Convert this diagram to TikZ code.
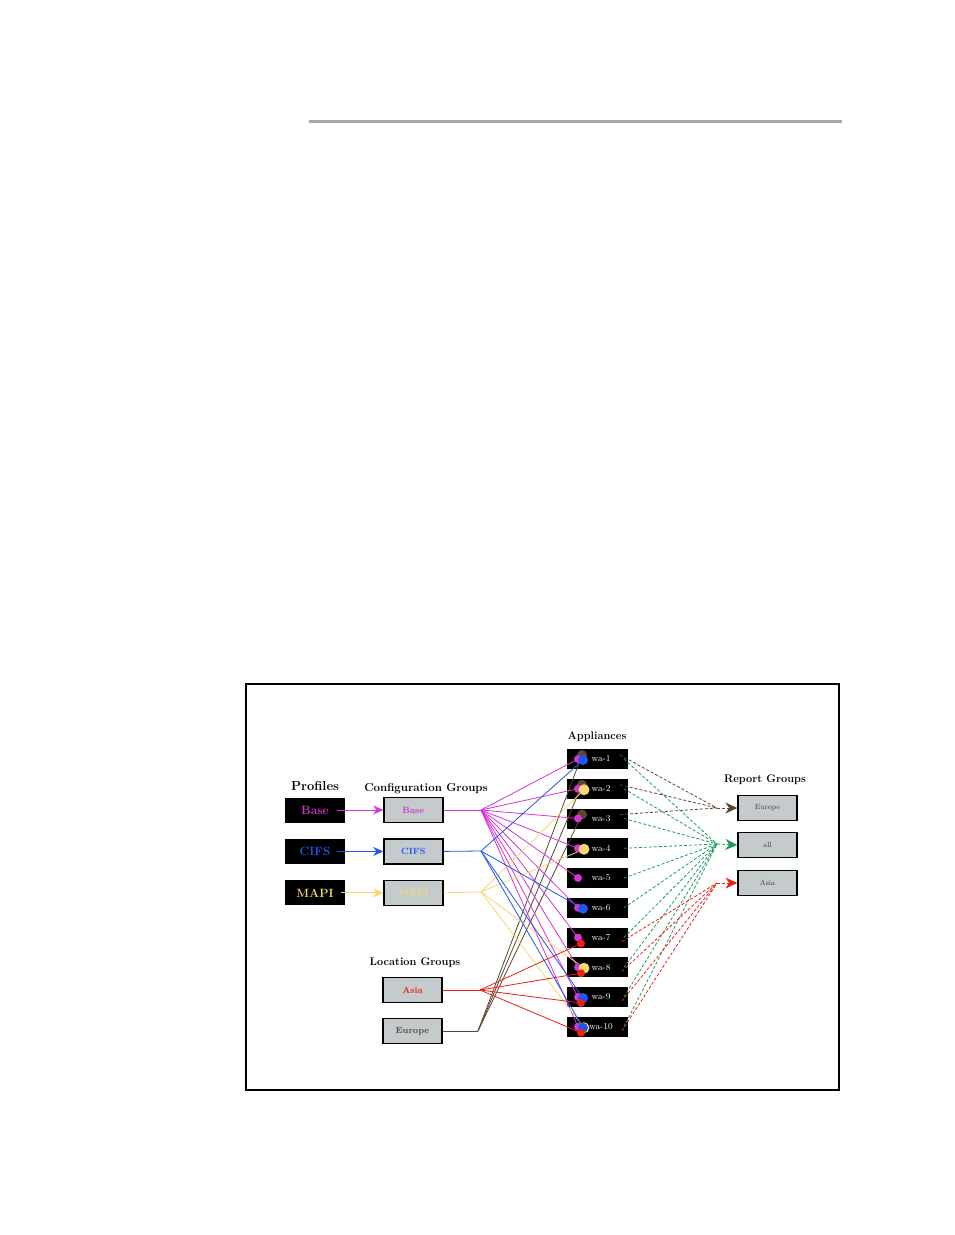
\documentclass[tikz,border=0pt]{standalone}
\usepackage{fontspec}
\usepackage{tikz}
\usetikzlibrary{positioning,arrows.meta}

\definecolor{magline}{HTML}{D535D5}
\definecolor{blueline}{HTML}{2255EE}
\definecolor{yelline}{HTML}{F5D870}
\definecolor{redline}{HTML}{EE2010}
\definecolor{brownline}{HTML}{5C4632}
\definecolor{greenline}{HTML}{1E9A60}
\definecolor{boxgray}{HTML}{C5CACD}

\tikzset{
  profbox/.style={rectangle,fill=black,minimum width=60pt,minimum height=25pt,
    font=\fontsize{12}{14}\selectfont\bfseries},
  grpbox/.style={rectangle,draw=black,line width=1.3pt,fill=boxgray,
    minimum width=59pt,minimum height=25pt,font=\fontsize{9}{10}\selectfont\bfseries},
  repbox/.style={grpbox,font=\fontsize{7.5}{8}\selectfont,text=black!75},
  applbox/.style={rectangle,fill=black,minimum width=61pt,minimum height=20pt,
    text=white,font=\fontsize{9}{10}\selectfont},
  heading/.style={font=\fontsize{11}{13}\selectfont\bfseries},
  wire/.style={line width=0.8pt},
  dline/.style={line width=0.8pt,dash pattern=on 3pt off 2pt},
  bigtip/.style={-{Stealth[length=12pt,width=11pt]}},
}

\begin{document}
\begin{tikzpicture}[x=1pt,y=-1pt,>={Stealth[length=10pt,width=9pt]}]
  \useasboundingbox (0,0) rectangle (954,1235);
  \fill[white] (0,0) rectangle (954,1235);
  % rule and frame
  \draw[black!35,line width=3pt] (309,121) -- (842,121);
  \draw[line width=2pt] (246,684) rectangle (839,1090);

  % profiles
  \node[heading,font=\fontsize{13}{15}\selectfont\bfseries] (tProf) at (315,786) {Profiles};
  \node[profbox,text=magline] (pBase) at (315,810) {Base};
  \node[profbox,text=blueline,below=16pt of pBase] (pCIFS) {CIFS};
  \node[profbox,text=yelline,below=16pt of pCIFS] (pMAPI) {MAPI};

  % configuration groups
  \node[heading,font=\fontsize{11.5}{13}\selectfont\bfseries] (tConf) at (426,789)
    {\addfontfeature{LetterSpace=6}Configuration Groups};
  \node[grpbox,text=magline,right=38pt of pBase] (cgBase) {Base};
  \node[grpbox,text=blueline,right=38pt of pCIFS] (cgCIFS) {CIFS};
  \node[grpbox,text=yelline,right=38pt of pMAPI] (cgMAPI) {MAPI};

  \draw[->,magline,wire] ([xshift=-8pt]pBase.east) -- (cgBase.west);
  \draw[->,blueline,line width=1.2pt] ([xshift=-8pt]pCIFS.east) -- (cgCIFS.west);
  \draw[->,yelline,wire] ([xshift=-4pt]pMAPI.east) -- (cgMAPI.west);

  % location groups
  \node[heading] (tLoc) at (415,963) {\addfontfeature{LetterSpace=4}Location Groups};
  \node[grpbox,text=redline] (lgAsia) at (412.5,990) {Asia};
  \node[grpbox,text=brownline] (lgEurope) at (412.5,1031) {Europe};

  % fan points
  \coordinate (fBase) at (481,810);
  \coordinate (fCIFS) at (481,851);
  \coordinate (fMAPI) at (481,892);
  \coordinate (fAsia) at (480,990);
  \coordinate (fEurope) at (478,1031);
  \draw[magline,wire] (cgBase.east) -- (fBase);
  \draw[blueline,wire] (cgCIFS.east) -- (fCIFS);
  \draw[yelline,wire] (cgMAPI.east) -- (fMAPI);
  \draw[redline,wire] (lgAsia.east) -- (fAsia);
  \draw[brownline,wire] (lgEurope.east) -- (fEurope);

  % appliances
  \node[heading] (tAppl) at (597,737) {Appliances};
  \foreach \i in {1,...,10}
    \node[applbox] (wa\i) at (597,{759+29.75*(\i-1)}) {\hspace{8pt}wa-\i};

  \foreach \i in {1,2,3}
    \draw[brownline,wire] (fEurope) -- ([shift={(-15,-4)}]wa\i.center);
  \foreach \i in {1,...,10}
    \draw[magline,wire] (fBase) -- ([shift={(-19,0)}]wa\i.center);
  \foreach \i in {2,4,8,10}
    \draw[yelline,wire] (fMAPI) -- ([shift={(-13,1)}]wa\i.center);
  \foreach \i in {1,6,9,10}
    \draw[blueline,wire] (fCIFS) -- ([shift={(-14,1)}]wa\i.center);
  \foreach \i in {7,8,9,10}
    \draw[redline,wire] (fAsia) -- ([shift={(-16,6)}]wa\i.center);

  % dots
  \foreach \i in {1,2,3}
    \fill[brownline] ([shift={(-15,-4)}]wa\i.center) circle (5);
  \foreach \i in {1,...,10}
    \fill[magline] ([shift={(-19,0)}]wa\i.center) circle (4);
  \foreach \i in {2,4,8,10}
    \fill[yelline] ([shift={(-13,1)}]wa\i.center) circle (5.5);
  \foreach \i in {1,6,9,10}
    \fill[blueline] ([shift={(-14,1)}]wa\i.center) circle (5);
  \foreach \i in {7,8,9,10}
    \fill[redline] ([shift={(-16,6)}]wa\i.center) circle (4);

  % report groups
  \node[heading] (tRep) at (765,780) {Report Groups};
  \node[repbox] (rgEurope) at (767.5,808) {Europe};
  \node[repbox] (rgAll) at (767.5,845) {all};
  \node[repbox] (rgAsia) at (767.5,883) {Asia};

  \coordinate (jEur) at (717,808);
  \coordinate (jAll) at (717,844);
  \coordinate (jAsia) at (717,883);

  \foreach \i in {1,2,3}
    \draw[brownline,dline] ([shift={(23,-4)}]wa\i.center) -- (jEur);
  \foreach \i in {1,...,10}
    \draw[greenline,dline] ([shift={(27,0)}]wa\i.center) -- (jAll);
  \foreach \i in {7,...,10}
    \draw[redline,dline] ([shift={(25,4)}]wa\i.center) -- (jAsia);

  \draw[bigtip,brownline,dline] (jEur) -- (rgEurope.west);
  \draw[bigtip,greenline,dline] (jAll) -- (rgAll.west);
  \draw[bigtip,redline,dline] (jAsia) -- (rgAsia.west);
\end{tikzpicture}
\end{document}
